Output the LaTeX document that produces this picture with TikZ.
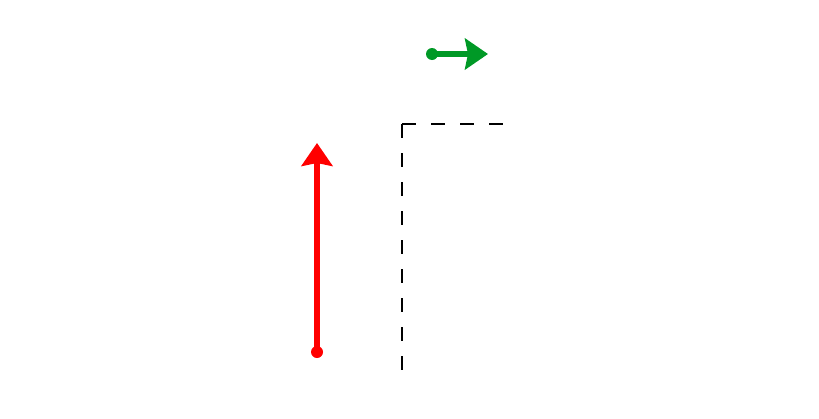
\documentclass[tikz,border=0pt]{standalone}
\usetikzlibrary{arrows.meta}
\definecolor{myred}{RGB}{255,0,0}
\definecolor{mygreen}{RGB}{0,153,38}
\begin{document}
\begin{tikzpicture}[x=1pt,y=-1pt,
  thickarrow/.style={line width=6pt, line cap=round, -{Stealth[length=23pt,width=31pt,inset=3pt]}},
  startdot/.style={circle, inner sep=0pt, minimum size=12pt, fill=#1},
  dashline/.style={line width=2pt, dash pattern=on 14pt off 15pt}]
\useasboundingbox (0,0) rectangle (819,418);
% red arrow
\node[startdot=myred] (rs) at (317,352) {};
\coordinate (re) at (317,143);
\draw[thickarrow, myred] (rs.center) -- (re);
% green arrow
\node[startdot=mygreen] (gs) at (432,54) {};
\coordinate (ge) at (488,54);
\draw[thickarrow, mygreen] (gs.center) -- (ge);
% dashed corner
\coordinate (c) at (402,124);
\coordinate (cr) at (503,124);
\coordinate (cb) at (402,372);
\draw[dashline] (c) -- (cr);
\draw[dashline] (c) -- (cb);
\end{tikzpicture}
\end{document}
